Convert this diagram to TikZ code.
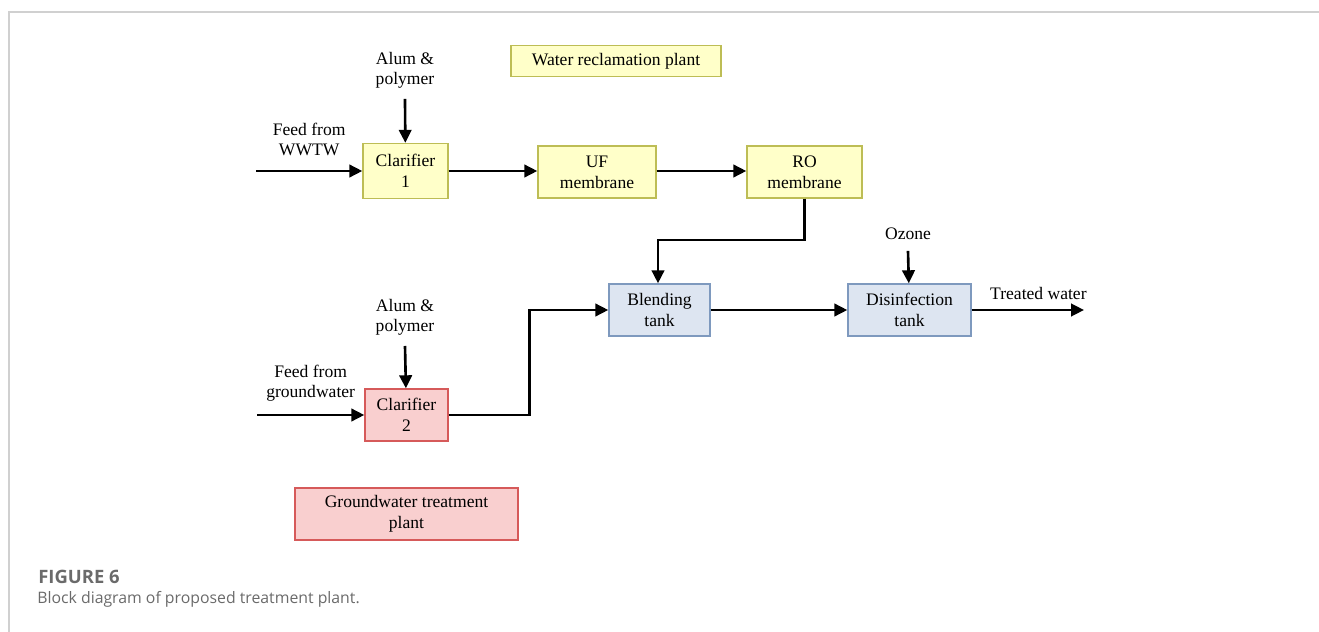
\documentclass[tikz,border=0pt]{standalone}
\usepackage{fontspec}
\setmainfont{Liberation Serif}
\newfontfamily\capfont{Open Sans}
\usepackage{tikz}
\usetikzlibrary{arrows.meta, positioning}

\definecolor{yelfill}{HTML}{FFFFC9}
\definecolor{yeldraw}{HTML}{BDBD55}
\definecolor{bluefill}{HTML}{DDE5F1}
\definecolor{bluedraw}{HTML}{7E99BE}
\definecolor{pinkfill}{HTML}{F9CFCF}
\definecolor{pinkdraw}{HTML}{D65A5A}
\definecolor{framegray}{HTML}{D0D0D0}
\definecolor{capgray}{HTML}{6A6A6A}

\tikzset{
  flow/.style={line width=1.5pt, -{Triangle[length=2.6mm,width=2.5mm]}},
  unit/.style={draw, rectangle, line width=0.8pt, align=center, font=\fontsize{10}{12}\selectfont},
  wrp/.style={unit, fill=yelfill, draw=yeldraw},
  mix/.style={unit, fill=bluefill, draw=bluedraw},
  gwp/.style={unit, fill=pinkfill, draw=pinkdraw},
  lbl/.style={align=center, font=\fontsize{10}{11.5}\selectfont, inner sep=1pt}
}

\begin{document}
\begin{tikzpicture}[x=0.02cm, y=-0.02cm]
            \useasboundingbox (0,0) rectangle (1319,632);
            \draw[framegray, line width=0.6pt] (1319,12) -- (9,12) -- (9,632);

            % water reclamation plant
            \node (wrp_key) [wrp, minimum width=4.2cm, minimum height=0.62cm] at (616,61) {Water reclamation plant};
            \node (clar1) [wrp, minimum width=1.7cm, minimum height=1.1cm] at (405.5,171) {Clarifier\\1};
            \node (uf) [wrp, minimum width=2.36cm, minimum height=1.04cm] at (597,172) {UF\\membrane};
            \node (ro) [wrp, minimum width=2.3cm, minimum height=1.04cm] at (804.5,172) {RO\\membrane};

            % blending and disinfection
            \node (blend) [mix, minimum width=2.02cm, minimum height=1.04cm] at (659.5,310) {Blending\\tank};
            \node (disinf) [mix, minimum width=2.46cm, minimum height=1.04cm] at (909.5,310) {Disinfection\\tank};

            % groundwater treatment plant
            \node (clar2) [gwp, minimum width=1.66cm, minimum height=1.04cm] at (406.5,415) {Clarifier\\2};
            \node (gwp_key) [gwp, minimum width=4.46cm, minimum height=1.04cm] at (406.5,514) {Groundwater treatment\\plant};

            % dosing labels and free ends
            \node (alum1) [lbl] at (405,70) {Alum \&\\polymer};
            \node (alum2) [lbl] at (405,317) {Alum \&\\polymer};
            \node (ozone) [lbl] at (908,234) {Ozone};
            \coordinate (wwtw_in) at (256,171);
            \coordinate (gw_in) at (257,415);
            \coordinate (treated_out) at (1084,310);

            \draw[flow] (wwtw_in) -- (clar1) node[lbl, midway, above=7pt] {Feed from\\WWTW};
            \draw[flow] ([yshift=-5pt]alum1.south) -- (clar1);
            \draw[flow] (clar1) -- (clar1 -| uf.west);
            \draw[flow] (uf.east |- clar1) -- (clar1 -| ro.west);
            \draw[flow] (ro.south) -- (ro.south |- 0,240) -| (blend.north -| 658,0);
            \draw[flow] (clar2.east) -- ++(81,0) |- (blend.west);
            \draw[flow] ([yshift=-5pt]alum2.south) -- (clar2);
            \draw[flow] (gw_in) -- (clar2) node[lbl, midway, above=6pt] {Feed from\\groundwater};
            \draw[flow] (blend) -- (disinf);
            \draw[flow] ([yshift=-5pt]ozone.south) -- (disinf);
            \draw[flow] (disinf) -- (treated_out) node[lbl, midway, above=4pt, xshift=6pt] {Treated water};

            % caption
            \node (fig_no) [anchor=base west, inner sep=0pt, text=capgray, font=\capfont\bfseries\fontsize{10.5}{12}\selectfont] at (38,583) {FIGURE 6};
            \node (fig_cap) [anchor=base west, inner sep=0pt, text=capgray, font=\capfont\fontsize{9}{11}\selectfont] at (37,603) {Block diagram of proposed treatment plant.};
        \end{tikzpicture}
\end{document}
